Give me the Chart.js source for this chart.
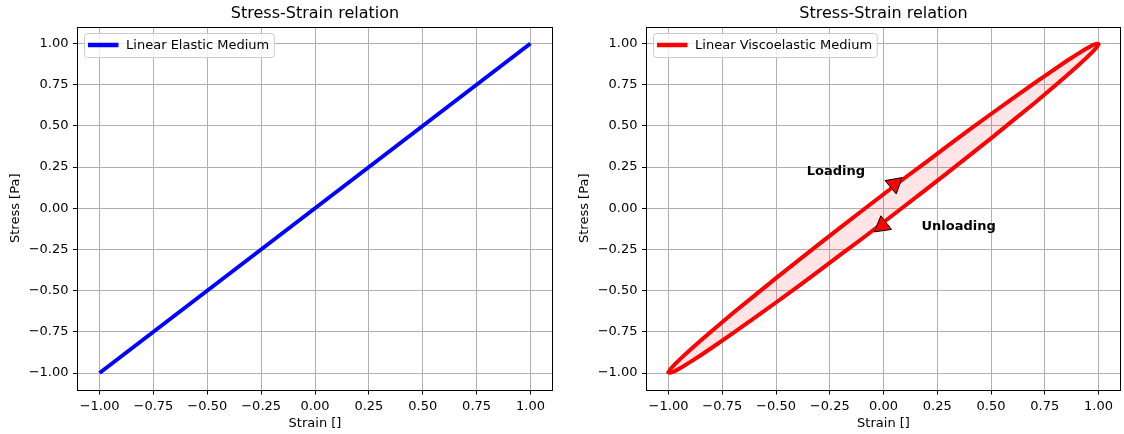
<!DOCTYPE html>
<html>
<head>
<meta charset="utf-8">
<title>Stress-Strain relation</title>
<script src="https://cdn.jsdelivr.net/npm/chart.js"></script>
<style>
  html, body { margin: 0; padding: 0; background: #fff; overflow: hidden; }
  #wrap { position: relative; width: 1124px; height: 434px; overflow: hidden; }
  canvas { position: absolute; top: 0; }
  #left { left: 0; }
  #right { left: 562px; }
</style>
</head>
<body>
<div id="wrap">
  <canvas id="left" width="570" height="434"></canvas>
  <canvas id="right" width="576" height="434"></canvas>
</div>
<script>
// values
const elasticStrain = [-1, 0, 1];
const elasticStress = [-1, 0, 1];

// hysteresis loop, both branches sampled at the same strains
const loopStrain = [-1, -0.99, -0.97, -0.94, -0.9, -0.85, -0.8, -0.7, -0.6, -0.5, -0.4, -0.3, -0.2, -0.1,
  0, 0.1, 0.2, 0.3, 0.4, 0.5, 0.6, 0.7, 0.8, 0.85, 0.9, 0.94, 0.97, 0.99, 1];
const loadingStress = [-0.996, -0.974, -0.946, -0.908, -0.860, -0.802, -0.746, -0.636, -0.530, -0.424, -0.321, -0.218, -0.116, -0.015,
  0.085, 0.185, 0.282, 0.380, 0.477, 0.572, 0.666, 0.758, 0.848, 0.892, 0.934, 0.966, 0.988, 0.998, 0.996];
const unloadingStress = [-0.996, -0.998, -0.988, -0.966, -0.934, -0.892, -0.848, -0.758, -0.666, -0.572, -0.477, -0.380, -0.282, -0.185,
  -0.085, 0.015, 0.116, 0.218, 0.321, 0.424, 0.530, 0.636, 0.746, 0.802, 0.860, 0.908, 0.946, 0.974, 0.996];

// arrow heads and their labels
const arrowStrain = [0.051, -0.006];
const arrowStress = [0.147, -0.106];
const arrowAngle = [170, -8];
const noteText = ['Loading', 'Unloading'];
const noteStrain = [-0.357, 0.177];
const noteStress = [0.199, -0.132];

const tickValues = [-1, -0.75, -0.5, -0.25, 0, 0.25, 0.5, 0.75, 1];
const tickLabels = ['\u22121.00', '\u22120.75', '\u22120.50', '\u22120.25', '0.00', '0.25', '0.50', '0.75', '1.00'];

Chart.defaults.font.family = "'DejaVu Sans', sans-serif";
Chart.defaults.font.size = 13;
Chart.defaults.color = '#000';

function pts(xs, ys) {
  return xs.map((x, i) => ({ x: x, y: ys[i] }));
}

function axis(title, isX, width) {
  return {
    type: 'linear',
    min: -1.1,
    max: 1.1,
    afterBuildTicks: s => { s.ticks = tickValues.map(v => ({ value: v })); },
    afterFit: s => {
      // fixed plot area, like the matplotlib figure
      if (isX) s.height = 44.5; else s.width = width;
    },
    grid: { color: '#b0b0b0', lineWidth: 1, tickColor: '#000', tickLength: 5, tickWidth: 1 },
    border: { display: false },
    ticks: { color: '#000', padding: 4.5, maxRotation: 0, autoSkip: false, callback: (v, i) => tickLabels[i] },
    title: { display: true, text: title, color: '#000', font: { size: 13 }, padding: isX ? { top: 0, bottom: 2.5 } : { top: width - 78 + 8, bottom: 0 } }
  };
}

// black frame round the plot area
const framePlugin = {
  id: 'frame',
  afterDatasetsDraw(chart) {
    const a = chart.chartArea, ctx = chart.ctx;
    ctx.save();
    ctx.strokeStyle = '#000';
    ctx.lineWidth = 1;
    ctx.strokeRect(Math.round(a.left) - 0.5, Math.round(a.top) + 0.5, Math.round(a.right - a.left) + 1, Math.round(a.bottom - a.top));
    ctx.restore();
  }
};

// legend box in the upper left corner, drawn like matplotlib's
const boxLegend = {
  id: 'boxLegend',
  afterDraw(chart, args, opts) {
    if (!opts.text) return;
    const a = chart.chartArea, ctx = chart.ctx;
    ctx.save();
    ctx.font = "13px 'DejaVu Sans'";
    const tw = ctx.measureText(opts.text).width;
    const x = a.left + 6.5, y = a.top + 6.5, w = 41.6 + tw + 5.2, h = 24;
    ctx.beginPath();
    ctx.roundRect(x, y, w, h, 3);
    ctx.fillStyle = 'rgba(255,255,255,0.8)';
    ctx.fill();
    ctx.strokeStyle = '#cccccc';
    ctx.lineWidth = 1;
    ctx.stroke();
    ctx.beginPath();
    ctx.moveTo(x + 3.5, y + 11.5);
    ctx.lineTo(x + 34, y + 11.5);
    ctx.strokeStyle = opts.color;
    ctx.lineWidth = 4.5;
    ctx.stroke();
    ctx.fillStyle = '#000';
    ctx.textBaseline = 'middle';
    ctx.fillText(opts.text, x + 41.6, y + 12.5);
    ctx.restore();
  }
};

// bold notes next to the arrows
const notePlugin = {
  id: 'notes',
  afterDatasetsDraw(chart, args, opts) {
    if (!opts.show) return;
    const ctx = chart.ctx, sx = chart.scales.x, sy = chart.scales.y;
    ctx.save();
    ctx.font = "bold 13px 'DejaVu Sans'";
    ctx.fillStyle = '#000';
    ctx.textAlign = 'left';
    ctx.textBaseline = 'alphabetic';
    noteText.forEach((t, i) => {
      ctx.fillText(t, sx.getPixelForValue(noteStrain[i]), sy.getPixelForValue(noteStress[i]));
    });
    ctx.restore();
  }
};

function titleOpts() {
  return { display: true, text: 'Stress-Strain relation', color: '#000', fullSize: false,
    font: { size: 16, weight: 'normal' }, padding: { top: 4, bottom: 3.8 } };
}

// left panel: canvas 0..570, plot area 78..552
new Chart(document.getElementById('left'), {
  type: 'line',
  data: {
    datasets: [{
      label: 'Linear Elastic Medium',
      data: pts(elasticStrain, elasticStress),
      borderColor: '#0000ff',
      borderWidth: 4,
      pointRadius: 0,
      fill: false
    }]
  },
  options: {
    responsive: false,
    animation: false,
    devicePixelRatio: 1,
    layout: { padding: { left: 0, right: 18, top: 0, bottom: 0 } },
    scales: { x: axis('Strain []', true), y: axis('Stress [Pa]', false, 78) },
    plugins: {
      legend: { display: false },
      tooltip: { enabled: false },
      title: titleOpts(),
      boxLegend: { text: 'Linear Elastic Medium', color: '#0000ff' },
      notes: { show: false }
    }
  },
  plugins: [framePlugin, boxLegend, notePlugin]
});

// right panel: canvas 562..1138, plot area 647..1120
new Chart(document.getElementById('right'), {
  type: 'line',
  data: {
    datasets: [{
      label: 'arrows',
      data: pts(arrowStrain, arrowStress),
      showLine: false,
      pointStyle: 'triangle',
      pointRadius: 10,
      pointRotation: arrowAngle,
      pointBackgroundColor: '#ff0000',
      pointBorderColor: '#000',
      pointBorderWidth: 1,
      order: 0
    }, {
      label: 'Loading',
      data: pts(loopStrain, loadingStress),
      borderColor: '#ff0000',
      borderWidth: 4,
      borderJoinStyle: 'round',
      borderCapStyle: 'round',
      pointRadius: 0,
      fill: false,
      order: 1
    }, {
      label: 'Unloading',
      data: pts(loopStrain, unloadingStress),
      borderColor: '#ff0000',
      borderWidth: 4,
      borderJoinStyle: 'round',
      borderCapStyle: 'round',
      backgroundColor: 'rgba(255,0,0,0.1)',
      pointRadius: 0,
      fill: '-1',
      order: 2
    }]
  },
  options: {
    responsive: false,
    animation: false,
    devicePixelRatio: 1,
    layout: { padding: { left: 0, right: 18, top: 0, bottom: 0 } },
    scales: { x: axis('Strain []', true), y: axis('Stress [Pa]', false, 85) },
    plugins: {
      legend: { display: false },
      tooltip: { enabled: false },
      title: titleOpts(),
      boxLegend: { text: 'Linear Viscoelastic Medium', color: '#ff0000' },
      notes: { show: true }
    }
  },
  plugins: [framePlugin, boxLegend, notePlugin]
});
</script>
</body>
</html>
